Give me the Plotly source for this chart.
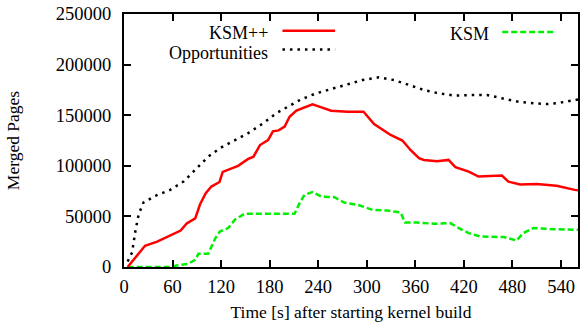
import plotly.graph_objects as go

# KSM++ (red solid)
ksmpp_t = [4.5, 26, 41, 57.5, 70, 77.5, 88, 94, 101, 108, 118, 122, 131, 141, 153, 160, 168, 178, 184, 191,
           198.5, 204.6, 213, 223, 233, 239.5, 256, 276, 296, 309, 317, 329.5, 344, 354, 364.5, 370.5,
           387, 401, 409.5, 426, 438, 467, 475, 489.5, 510, 534.5, 557, 561]
ksmpp_v = [0, 21000, 25000, 31000, 36000, 43000, 48000, 62000, 73000, 79500, 84000, 94000, 96500, 100000,
           106500, 109000, 120500, 125500, 134000, 135000,
           138700, 148500, 154500, 157500, 160700, 159000, 154500, 153500, 153500, 141300, 137000, 130500,
           125000, 115600, 107500, 105800,
           104500, 105800, 98600, 94300, 89400, 90300, 84400, 81500, 82100, 80200, 76200, 75800]

# Opportunities (black dotted)
opp_t = [4.5, 10, 14, 18, 24, 38.6, 57, 73.5, 88, 104, 118.5, 137, 153, 172, 188,
         202.5, 219, 237.5, 256, 274, 294.6, 315, 333.5, 350, 370.5,
         389, 409.5, 432, 448.5, 467, 487.5, 506, 524, 538.5, 550, 561]
opp_v = [5500, 14400, 35100, 51600, 63700, 70300, 76200, 84400, 96000, 109000, 117400, 125500, 132100, 142000, 151900,
         158400, 165700, 171600, 175800, 179800, 184700, 187400, 184700, 180500, 174900,
         171600, 169300, 170000, 170000, 166700, 163300, 161700, 161000, 162300, 164300, 165500]

# KSM (green dashed)
ksm_t = [4.5, 57, 65, 79.5, 88, 92, 104, 113, 118.5, 128.7, 137, 149, 192, 210.7, 217, 223, 233, 243.5, 260,
         272, 289, 307, 325.5, 342, 347, 362, 383, 403, 413.6, 426, 440, 469, 485, 493.5, 506, 526, 557, 561]
ksm_v = [0, 0, 1500, 3200, 7200, 13100, 13100, 28600, 35100, 38500, 46700, 52600, 52500, 52600, 63100, 71300,
         74000, 69600, 69000, 63700, 61400, 56500, 55800, 53800, 44000, 44000, 42700, 43400, 38500, 33500, 30200,
         29600, 26200, 33500, 38500, 37500, 36800, 36800]

x_ticks = [0, 60, 120, 180, 240, 300, 360, 420, 480, 540]
y_ticks = [0, 50000, 100000, 150000, 200000, 250000]

FONT = "Liberation Serif"

fig = go.Figure()
fig.add_trace(go.Scatter(x=opp_t, y=opp_v, mode="lines", name="Opportunities",
                         line=dict(color="black", width=2.5, dash="2.5px,5px")))
fig.add_trace(go.Scatter(x=ksm_t, y=ksm_v, mode="lines", name="KSM",
                         line=dict(color="#00ee00", width=2.5, dash="6px,3px")))
fig.add_trace(go.Scatter(x=ksmpp_t, y=ksmpp_v, mode="lines", name="KSM++",
                         line=dict(color="#ff0000", width=2.5)))

axis_common = dict(showline=True, linecolor="black", linewidth=2, mirror="allticks",
                   ticks="inside", ticklen=7, tickwidth=2, tickcolor="black",
                   showgrid=False, zeroline=False,
                   tickfont=dict(family=FONT, size=18.5, color="black"))

fig.update_xaxes(range=[0, 561], tickvals=x_ticks, ticktext=[str(v) for v in x_ticks],
                 ticklabelstandoff=2,
                 title=dict(text="Time [s] after starting kernel build",
                            font=dict(family=FONT, size=17.5, color="black"), standoff=10),
                 **axis_common)
fig.update_yaxes(range=[0, 250000], tickvals=y_ticks, ticktext=[str(v) for v in y_ticks],
                 ticklabelstandoff=7,
                 title=dict(text="Merged Pages",
                            font=dict(family=FONT, size=17.5, color="black"), standoff=32),
                 **axis_common)

# legend (drawn manually to match gnuplot style)
leg_font = dict(family=FONT, size=18, color="black")
annots = [
    dict(text="KSM++", x=0.322, y=0.926),
    dict(text="Opportunities", x=0.322, y=0.846),
    dict(text="KSM", x=0.809, y=0.922),
]
for a in annots:
    fig.add_annotation(text=a["text"], x=a["x"], y=a["y"], xref="paper", yref="paper",
                       xanchor="right", yanchor="middle", showarrow=False, font=leg_font)
fig.add_shape(type="line", xref="paper", yref="paper", x0=0.349, x1=0.465, y0=0.934, y1=0.934,
              line=dict(color="#ff0000", width=2.5))
fig.add_shape(type="line", xref="paper", yref="paper", x0=0.349, x1=0.465, y0=0.860, y1=0.860,
              line=dict(color="black", width=2.5, dash="2.5px,5px"))
fig.add_shape(type="line", xref="paper", yref="paper", x0=0.833, x1=0.950, y0=0.929, y1=0.929,
              line=dict(color="#00ee00", width=2.5, dash="6px,3px"))

fig.update_layout(width=581, height=322, showlegend=False,
                  margin=dict(l=124, r=1, t=14, b=55),
                  plot_bgcolor="white", paper_bgcolor="white")

fig.write_html("out.html", config={"displayModeBar": False},
               post_script="document.body.style.margin='0';document.body.style.overflow='hidden';")
